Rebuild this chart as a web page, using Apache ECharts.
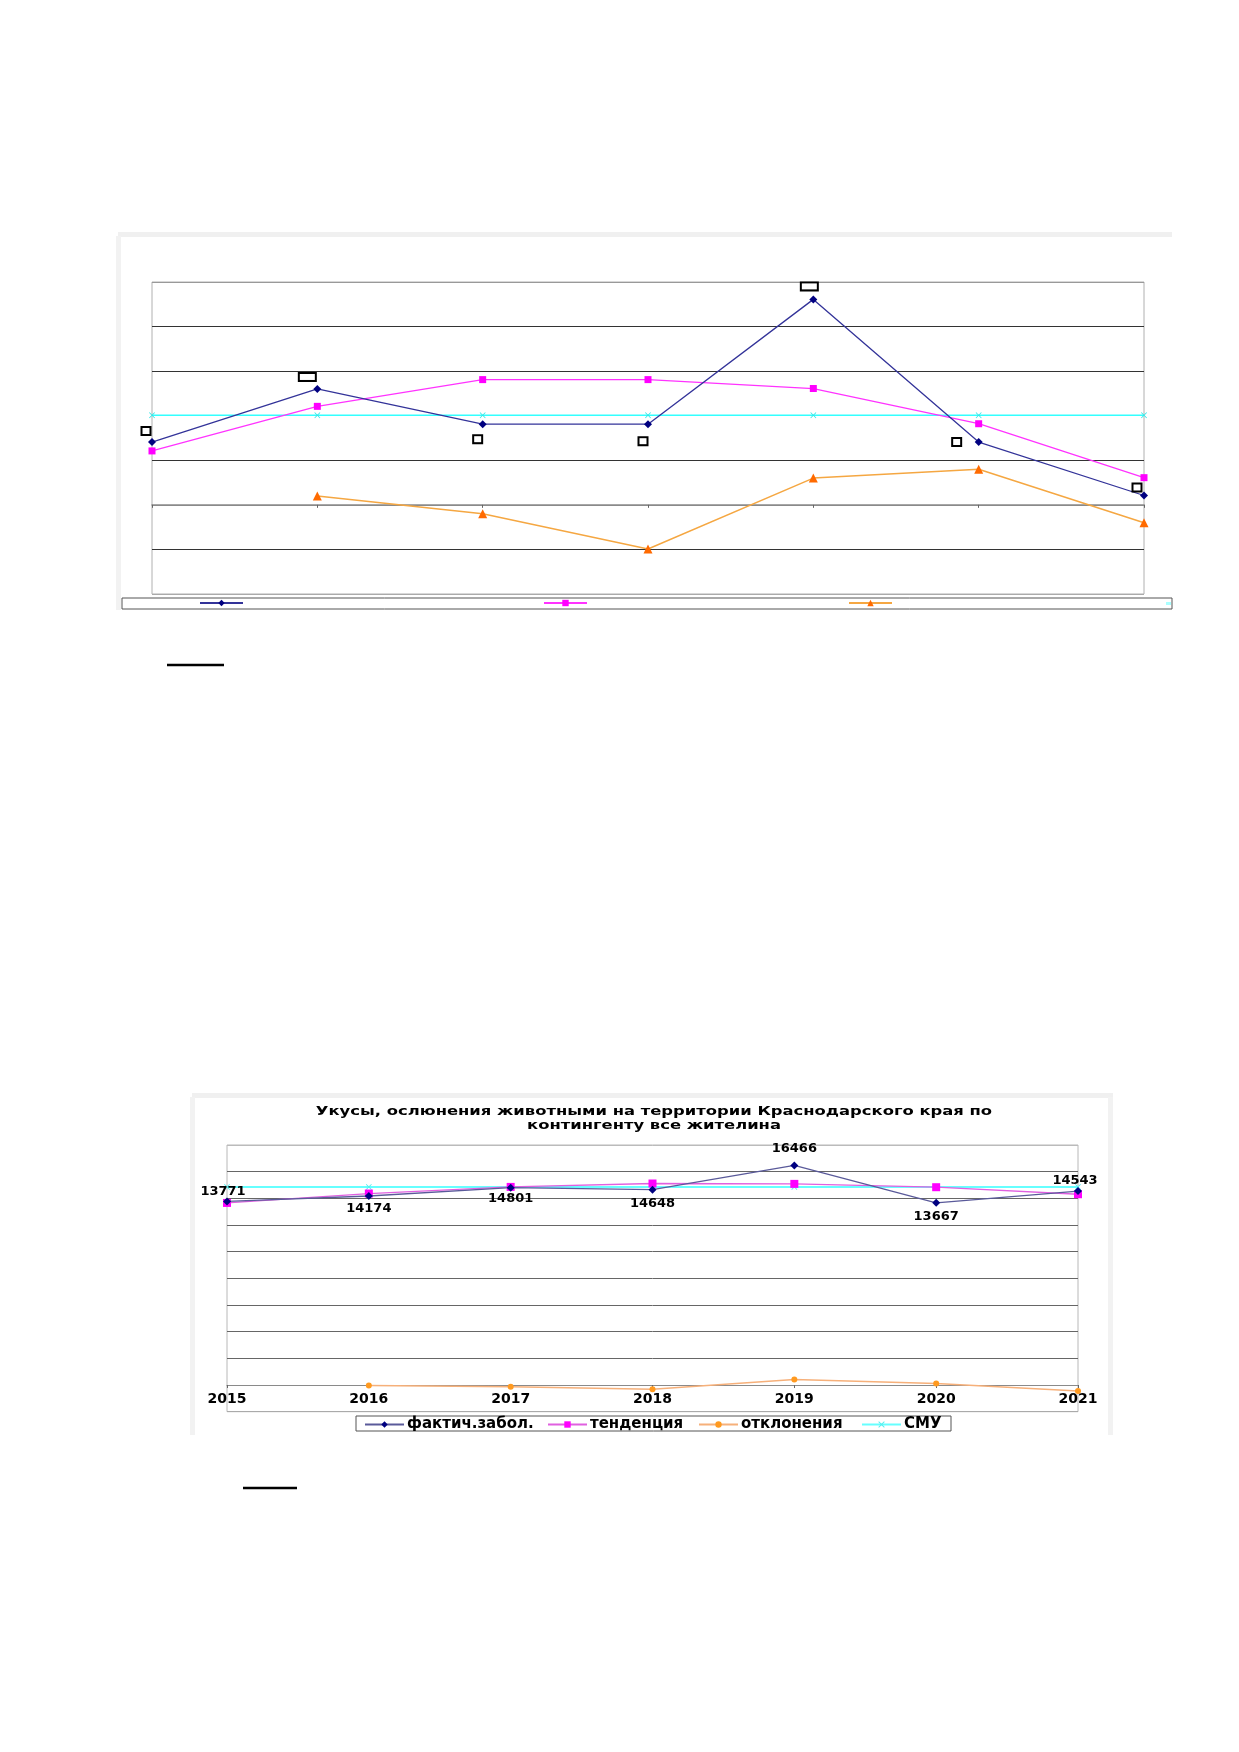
<!DOCTYPE html>
<html>
<head>
<meta charset="utf-8">
<script src="https://cdn.jsdelivr.net/npm/echarts@6/dist/echarts.min.js"></script>
<style>
html,body{margin:0;padding:0;background:#fff;}
#c{width:1239px;height:1752px;}
</style>
</head>
<body>
<div id="c"></div>
<script>
// ---------- DATA ----------
const years = ['2015', '2016', '2017', '2018', '2019', '2020', '2021'];

// Chart 1 (upper): labels are unreadable in the picture, values in grid units
const fact1  = [1.41, 2.60, 1.81, 1.81, 4.61, 1.41, 0.21];
const trend1 = [1.21, 2.21, 2.81, 2.81, 2.61, 1.82, 0.61];
const dev1   = [null, 0.20, -0.20, -0.99, 0.60, 0.80, -0.40];
const smu1   = [2.01, 2.01, 2.01, 2.01, 2.01, 2.01, 2.01];
const yMin1 = -2, yMax1 = 5, yStep1 = 1;

// Chart 2 (lower)
const title2 = 'Укусы, ослюнения животными на территории Краснодарского края по\nконтингенту все жителина';
const seriesNames2 = ['фактич.забол.', 'тенденция', 'отклонения', 'СМУ'];
const fact2  = [13771, 14174, 14801, 14648, 16466, 13667, 14543];
const trend2 = [13655, 14361, 14857, 15113, 15085, 14835, 14308];
const dev2   = [null, -30, -130, -325, 420, 120, -450];
const smu2   = [14857, 14857, 14857, 14857, 14857, 14857, 14857];
const yMin2 = -2000, yMax2 = 18000, yStep2 = 2000;

// ---------- STYLE HELPERS ----------
const FONT = 'DejaVu Sans';
const xMark = 'path://M0,1L1,0L5,4L9,0L10,1L6,5L10,9L9,10L5,6L1,10L0,9L4,5Z';

// label box placement for chart 1 (offset from point, wide flag)
const boxOff1 = [[-6,-11],[-10,-12],[-5,15],[-5,17],[-4,-13],[-22,0],[-7,-8]];
const boxWide1 = [false, true, false, false, true, false, false];
// label placement for chart 2
const labOff2 = [[-4,-10],[0,13],[0,11],[0,14],[0,-17],[0,14],[-3,-10]];
// legend item left edges for chart 2
const legLeft2 = [364, 547, 698, 861];

const chart = echarts.init(document.getElementById('c'), null, {renderer: 'canvas'});

const legend2 = seriesNames2.map((n, i) => ({
  data: [n], left: legLeft2[i], top: 1417, itemWidth: 39, itemHeight: 8, padding: 0, itemGap: 0,
  textStyle: {fontFamily: FONT, fontSize: 15, lineHeight: 13, fontWeight: 'bold', color: '#000', padding: [0,0,0,-2]}
}));

const option = {
  backgroundColor: '#fff',
  animation: false,
  grid: [
    {left: 152, top: 282, width: 992, height: 312, show: true, borderColor: '#b0b0b0', borderWidth: 1, backgroundColor: 'transparent'},
    {left: 227, top: 1145, width: 851, height: 266.7, show: true, borderColor: '#b8b8b8', borderWidth: 1, backgroundColor: 'transparent'}
  ],
  xAxis: [
    {gridIndex: 0, type: 'category', data: years, boundaryGap: false,
     axisLine: {onZero: true, lineStyle: {color: '#8a8a8a', width: 1.5}},
     axisTick: {show: true, length: 3, lineStyle: {color: '#666'}},
     axisLabel: {show: false}, splitLine: {show: false}},
    {gridIndex: 1, type: 'category', data: years, boundaryGap: false,
     axisLine: {onZero: true, lineStyle: {color: '#8a8a8a', width: 1.2}},
     axisTick: {show: true, length: 3, lineStyle: {color: '#666'}},
     axisLabel: {show: true, margin: -19, fontFamily: FONT, fontSize: 14, fontWeight: 'bold', color: '#000'},
     splitLine: {show: false}}
  ],
  yAxis: [
    {gridIndex: 0, type: 'value', min: yMin1, max: yMax1, interval: yStep1,
     axisLine: {show: false}, axisTick: {show: false}, axisLabel: {show: false},
     splitLine: {show: true, lineStyle: {color: ['#aaa','#333','#888','#333','#555','#333','#333','#999'], width: 1.2}}},
    {gridIndex: 1, type: 'value', min: yMin2, max: yMax2, interval: yStep2,
     axisLine: {show: false}, axisTick: {show: false}, axisLabel: {show: false},
     splitLine: {show: true, lineStyle: {color: ['#aaa','#888','#666','#666','#666','#666','#666','#666','#666','#666','#bbb'], width: 1}}}
  ],
  legend: [
    {data: ['ряд1'], left: 199, top: 599, itemWidth: 43, itemHeight: 8, formatter: () => '', padding: 0},
    {data: ['ряд2'], left: 543, top: 599, itemWidth: 43, itemHeight: 8, formatter: () => '', padding: 0},
    {data: ['ряд3'], left: 848, top: 599, itemWidth: 43, itemHeight: 8, formatter: () => '', padding: 0}
  ].concat(legend2),
  series: [
    // ----- chart 1 -----
    {name: 'ряд4', type: 'line', xAxisIndex: 0, yAxisIndex: 0, data: smu1,
     symbol: xMark, symbolSize: 6, lineStyle: {color: '#33ffff', width: 1.5}, itemStyle: {color: '#33e6e6'}, z: 2},
    {name: 'ряд3', type: 'line', xAxisIndex: 0, yAxisIndex: 0, data: dev1,
     symbol: 'triangle', symbolSize: 9, lineStyle: {color: '#f5a742', width: 1.5}, itemStyle: {color: '#ff6a00'}, z: 3},
    {name: 'ряд2', type: 'line', xAxisIndex: 0, yAxisIndex: 0, data: trend1,
     symbol: 'rect', symbolSize: 7, lineStyle: {color: '#ff33ff', width: 1.3}, itemStyle: {color: '#ff00ff'}, z: 4},
    {name: 'ряд1', type: 'line', xAxisIndex: 0, yAxisIndex: 0,
     data: fact1.map((v, i) => ({value: v, label: {offset: boxOff1[i], formatter: boxWide1[i] ? '{w| }' : '{n| }'}})),
     symbol: 'diamond', symbolSize: 8, lineStyle: {color: '#333399', width: 1.3}, itemStyle: {color: '#000080'}, z: 5,
     label: {show: true, position: 'inside',
       rich: {
         n: {width: 7, height: 6, borderColor: '#000', borderWidth: 2, backgroundColor: '#fff', fontSize: 1},
         w: {width: 15, height: 6, borderColor: '#000', borderWidth: 2, backgroundColor: '#fff', fontSize: 1}
       }}},
    // ----- chart 2 -----
    {name: seriesNames2[3], type: 'line', xAxisIndex: 1, yAxisIndex: 1, data: smu2,
     symbol: xMark, symbolSize: 6, lineStyle: {color: '#66ffff', width: 2}, itemStyle: {color: '#55eeee'}, z: 2},
    {name: seriesNames2[2], type: 'line', xAxisIndex: 1, yAxisIndex: 1, data: dev2,
     symbol: 'circle', symbolSize: 6, lineStyle: {color: '#f6b07a', width: 1.5}, itemStyle: {color: '#ff9a20'}, z: 3},
    {name: seriesNames2[1], type: 'line', xAxisIndex: 1, yAxisIndex: 1, data: trend2,
     symbol: 'rect', symbolSize: 8, lineStyle: {color: '#e060e0', width: 1.3}, itemStyle: {color: '#ff00ff'}, z: 4},
    {name: seriesNames2[0], type: 'line', xAxisIndex: 1, yAxisIndex: 1,
     data: fact2.map((v, i) => ({value: v, label: {offset: labOff2[i]}})),
     symbol: 'diamond', symbolSize: 8, lineStyle: {color: '#5a5a9a', width: 1.3}, itemStyle: {color: '#000080'}, z: 5,
     label: {show: true, position: 'inside', fontFamily: FONT, fontSize: 13, fontWeight: 'bold', color: '#000'}}
  ],
  graphic: [
    // chart 2 title (stretched horizontally like the source rendering)
    {type: 'text', x: 654, y: 1105, scaleX: 1.26, scaleY: 1, silent: true,
     style: {text: title2, x: 0, y: 0, align: 'center', verticalAlign: 'top',
             font: 'bold 13px "DejaVu Sans"', lineHeight: 14, fill: '#000'}},
    // legend box chart 2
    {type: 'rect', shape: {x: 356, y: 1416, width: 595, height: 15}, style: {fill: 'none', stroke: '#555', lineWidth: 1}, silent: true},
    // outer frame strips, chart 1
    {type: 'rect', shape: {x: 118, y: 232, width: 1054, height: 5}, style: {fill: '#f0f0f0'}, silent: true, z: -1},
    {type: 'rect', shape: {x: 116, y: 236, width: 5, height: 374}, style: {fill: '#f2f2f2'}, silent: true, z: -1},
    // legend box chart 1
    {type: 'rect', shape: {x: 122, y: 598, width: 1050, height: 11}, style: {fill: 'none', stroke: '#555', lineWidth: 1}, silent: true},
    {type: 'rect', shape: {x: 1166, y: 602, width: 5, height: 3}, style: {fill: '#aaffff'}, silent: true},
    // outer frame strips, chart 2
    {type: 'rect', shape: {x: 192, y: 1093, width: 921, height: 5}, style: {fill: '#f0f0f0'}, silent: true, z: -1},
    {type: 'rect', shape: {x: 190, y: 1097, width: 5, height: 338}, style: {fill: '#f2f2f2'}, silent: true, z: -1},
    {type: 'rect', shape: {x: 1108, y: 1097, width: 5, height: 338}, style: {fill: '#f2f2f2'}, silent: true, z: -1},
    // underlines in the document text
    {type: 'line', shape: {x1: 167, y1: 665, x2: 224, y2: 665}, style: {stroke: '#000', lineWidth: 2.5}, silent: true},
    {type: 'line', shape: {x1: 243, y1: 1488, x2: 297, y2: 1488}, style: {stroke: '#000', lineWidth: 2.5}, silent: true}
  ]
};
chart.setOption(option);
</script>
</body>
</html>
